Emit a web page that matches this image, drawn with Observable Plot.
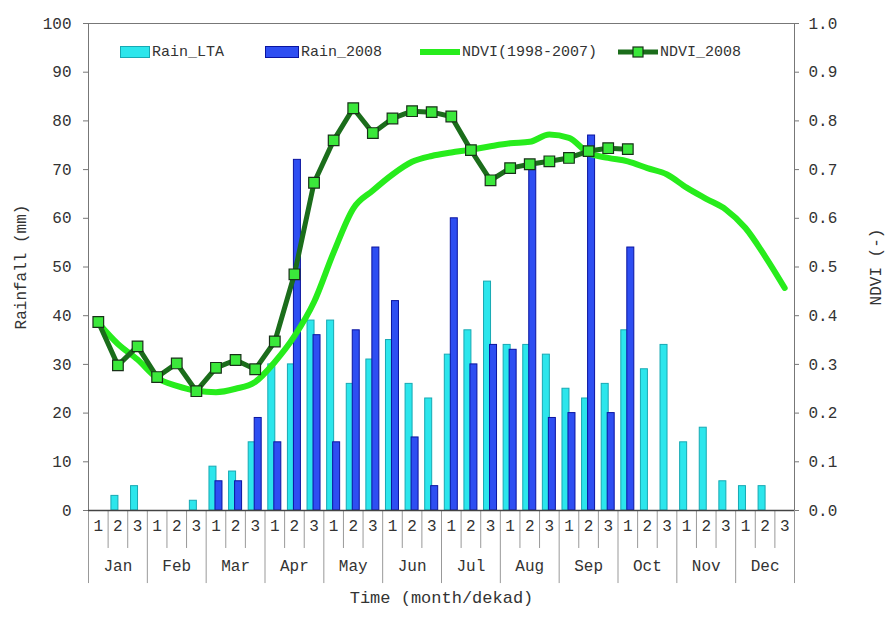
<!DOCTYPE html>
<html><head><meta charset="utf-8">
<script src="https://cdn.jsdelivr.net/npm/d3@7"></script>
<script src="https://cdn.jsdelivr.net/npm/@observablehq/plot@0.6"></script>
<style>
body{margin:0;background:#fff;}
#wrap{position:relative;width:888px;height:621px;font-family:"Liberation Mono",monospace;color:#333;}
.leg{position:absolute;top:44px;height:16px;display:flex;align-items:center;font-size:15px;white-space:nowrap;gap:2px}
.leg svg{display:block}
</style></head><body><div id="wrap"></div>
<script>
const months = ["Jan","Feb","Mar","Apr","May","Jun","Jul","Aug","Sep","Oct","Nov","Dec"];
const dekadLabels = ["1","2","3"];
const rainLTA = [0,3,5, 0,0,2, 9,8,14, 30,30,39, 39,26,31, 35,26,23, 32,37,47, 34,34,32, 25,23,26, 37,29,34, 14,17,6, 5,5,0];
const rain2008 = [0,0,0, 0,0,0, 6,6,19, 14,72,36, 14,37,54, 43,15,5, 60,30,34, 33,71,19, 20,77,20, 54,null,null, null,null,null, null,null,null];
const ndviLTA = [0.385,0.342,0.310, 0.272,0.256,0.246, 0.243,0.250,0.264, 0.305,0.358,0.428, 0.530,0.620,0.657, 0.690,0.716,0.728, 0.735,0.741,0.748, 0.754,0.757,0.772, 0.765,0.734,0.724, 0.717,0.703,0.690, 0.663,0.640,0.618, 0.580,0.522,0.457];
const ndvi2008 = [0.387,0.298,0.337, 0.274,0.302,0.245, 0.293,0.309,0.290, 0.347,0.485,0.673, 0.760,0.826,0.775, 0.805,0.820,0.818, 0.809,0.740,0.678, 0.703,0.711,0.717, 0.724,0.738,0.744, 0.742,null,null, null,null,null, null,null,null];
const rainTicks = [0,10,20,30,40,50,60,70,80,90,100];
const ndviTicks = [0,0.1,0.2,0.3,0.4,0.5,0.6,0.7,0.8,0.9,1.0];

const W = 888, H = 621, mL = 88, mR = 94, mT = 23, mB = 111;
const nD = 36;
const bw = (W - mL - mR) / nD;
const idx = d3.range(nD);
const rows = idx.map(i => ({i, lta: rainLTA[i], r08: rain2008[i], nl: ndviLTA[i], n08: ndvi2008[i]}));
const barInset = (bw - 7) / 2;

const plot = Plot.plot({
  width: W, height: H,
  marginLeft: mL, marginRight: mR, marginTop: mT, marginBottom: mB,
  style: {fontFamily: "Liberation Mono, monospace", fontSize: "16px", color: "#333", background: "#fff"},
  x: {type: "band", domain: idx, padding: 0, round: false, axis: null},
  y: {domain: [0, 100], axis: null},
  marks: [
    Plot.frame({stroke: "#777"}),
    Plot.axisY(rainTicks, {anchor: "left", tickSize: 5, tickPadding: 12, stroke: "#777", fill: "#333",
      label: "Rainfall (mm)", labelAnchor: "center", labelArrow: "none", labelOffset: 74, fontSize: 16}),
    Plot.axisY(ndviTicks.map(v => v * 100), {anchor: "right", tickSize: 4, tickPadding: 10, stroke: "#777", fill: "#333",
      tickFormat: d => (d / 100).toFixed(1),
      label: "NDVI (-)", labelAnchor: "center", labelArrow: "none", labelOffset: 86, fontSize: 16}),
    // x axis divider table
    Plot.ruleX(idx.filter(i => i % 3 !== 0), {x: d => d, dx: -bw / 2, y1: 0, y2: -7.8, stroke: "#999"}),
    Plot.ruleX(idx.filter(i => i % 3 === 0), {x: d => d, dx: -bw / 2, y1: 0, y2: -15, stroke: "#999"}),
    Plot.ruleX([nD - 1], {x: d => d, dx: bw / 2, y1: 0, y2: -15, stroke: "#999"}),
    Plot.text(idx, {x: d => d, text: d => dekadLabels[d % 3], frameAnchor: "bottom", dy: 20, fill: "#333", fontSize: 16}),
    Plot.text(months, {x: (d, i) => i * 3 + 1, text: d => d, frameAnchor: "bottom", dy: 60, fill: "#333", fontSize: 16}),
    Plot.text(["Time (month/dekad)"], {frameAnchor: "bottom", dy: 92, fill: "#333", fontSize: 17}),
    // bars
    Plot.barY(rows.filter(d => d.lta > 0), {x: "i", y: "lta", dx: -3, insetLeft: barInset, insetRight: barInset,
      fill: "#2ce6ec", stroke: "#17a9b3", strokeWidth: 1}),
    Plot.barY(rows.filter(d => d.r08 > 0), {x: "i", y: "r08", dx: 3, insetLeft: barInset, insetRight: barInset,
      fill: "#2e4ef2", stroke: "#0a14a0", strokeWidth: 1}),
    Plot.ruleY([0], {stroke: "#444", strokeWidth: 1.5}),
    // NDVI lines
    Plot.line(rows, {x: "i", y: d => d.nl * 100, stroke: "#27ec1c", strokeWidth: 6, curve: "monotone-x"}),
    Plot.line(rows.filter(d => d.n08 != null), {x: "i", y: d => d.n08 * 100, stroke: "#1b6d1b", strokeWidth: 5}),
    Plot.dot(rows.filter(d => d.n08 != null), {x: "i", y: d => d.n08 * 100, symbol: "square", r: 6,
      fill: "#3be83b", stroke: "#183018", strokeWidth: 1.2})
  ]
});

const wrap = document.getElementById("wrap");
wrap.appendChild(plot);

const legendItems = [
  {left: 120, label: "Rain_LTA", svg: '<svg width="30" height="12"><rect x="0.5" y="0.5" width="29" height="11" fill="#2ce6ec" stroke="#17a9b3"/></svg>'},
  {left: 265, label: "Rain_2008", svg: '<svg width="34" height="12"><rect x="0.5" y="0.5" width="33" height="11" fill="#2e4ef2" stroke="#0a14a0"/></svg>'},
  {left: 420, label: "NDVI(1998-2007)", svg: '<svg width="40" height="12"><line x1="0" x2="40" y1="6" y2="6" stroke="#27ec1c" stroke-width="6" stroke-linecap="round"/></svg>'},
  {left: 618, label: "NDVI_2008", svg: '<svg width="40" height="14"><line x1="0" x2="40" y1="7" y2="7" stroke="#1b6d1b" stroke-width="5"/><rect x="15" y="2" width="10" height="10" fill="#3be83b" stroke="#183018" stroke-width="1.2"/></svg>'}
];
for (const it of legendItems) {
  const div = document.createElement("div");
  div.className = "leg";
  div.style.left = it.left + "px";
  div.innerHTML = it.svg + "<span>" + it.label + "</span>";
  wrap.appendChild(div);
}
</script></body></html>
